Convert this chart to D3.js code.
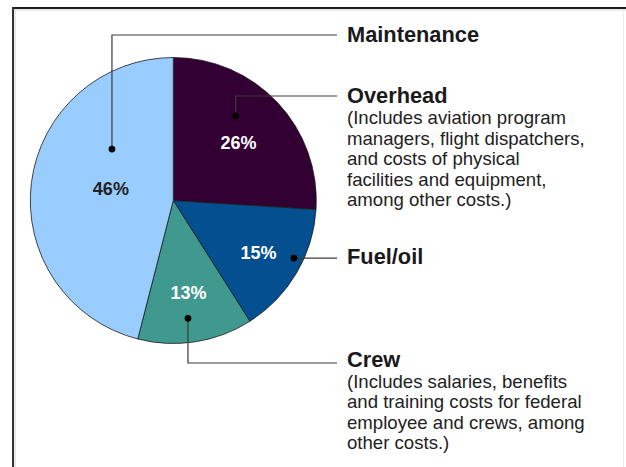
<!DOCTYPE html>
<html>
<head>
<meta charset="utf-8">
<script src="https://cdn.jsdelivr.net/npm/d3@7"></script>
<style>
  html, body { margin: 0; padding: 0; background: #fff; }
  svg { display: block; }
</style>
</head>
<body>
<svg id="chart" width="626" height="467"></svg>
<script>
// Aviation program cost shares, clockwise from 12 o'clock
const categories = ["Overhead", "Fuel/oil", "Crew", "Maintenance"];
const shares = [26, 15, 13, 46];
const sliceColors = ["#330033", "#044f8f", "#40998f", "#99ccff"];
const shareTextColors = ["#ffffff", "#ffffff", "#ffffff", "#222222"];
const notes = [
  ["(Includes aviation program", "managers, flight dispatchers,", "and costs of physical", "facilities and equipment,", "among other costs.)"],
  [],
  ["(Includes salaries, benefits", "and training costs for federal", "employee and crews, among", "other costs.)"],
  []
];

// Placement of the share labels and leader dots (polar, relative to the pie)
const shareLabelRadius = [0.61, 0.70, 0.655, 0.445];
const shareLabelTurn = [1.6, 1.0, -0.3, 4.0];       // degrees off the slice midline
const dotRadius = [0.735, 0.935, 0.83, 0.56];
const dotTurn = [-10.4, -5.1, 1.9, 32.8];            // degrees off the slice midline
// Legend block: header baseline and leader elbow height
const headerY = [103.3, 264.3, 367, 41.7];
const elbowY = [96, 258, 363, 35];

const svg = d3.select("#chart");
const W = 626, H = 467;
const cx = 173.3, cy = 200.5, R = 143;
const legendX = 347, lineEndX = 337;
const font = "'Liberation Sans', Arial, Helvetica, sans-serif";

// Frame
svg.append("line").attr("x1", 12).attr("x2", W).attr("y1", 8).attr("y2", 8)
  .attr("stroke", "#1e1e1e").attr("stroke-width", 2);
svg.append("line").attr("x1", 14).attr("x2", W).attr("y1", 10).attr("y2", 10)
  .attr("stroke", "#d4d4d4").attr("stroke-width", 1);
svg.append("line").attr("x1", 13).attr("x2", 13).attr("y1", 7).attr("y2", H)
  .attr("stroke", "#333").attr("stroke-width", 2);
svg.append("line").attr("x1", 15).attr("x2", 15).attr("y1", 10).attr("y2", H)
  .attr("stroke", "#d4d4d4").attr("stroke-width", 1);
svg.append("line").attr("x1", 623.5).attr("x2", 623.5).attr("y1", 10).attr("y2", H)
  .attr("stroke", "#ececec").attr("stroke-width", 1);

const data = categories.map((c, i) => ({ name: c, value: shares[i], i }));
const pie = d3.pie().sort(null).value(d => d.value).startAngle(0).endAngle(2 * Math.PI);
const arcs = pie(data);
const arc = d3.arc().innerRadius(0).outerRadius(R);

const g = svg.append("g").attr("transform", `translate(${cx},${cy})`);

g.selectAll("path.slice").data(arcs).join("path")
  .attr("class", "slice")
  .attr("d", arc)
  .attr("fill", d => sliceColors[d.data.i])
  .attr("stroke", "#1a1a1a")
  .attr("stroke-width", 0.8)
  .attr("stroke-linejoin", "round");

function polar(a, r) {
  return [Math.sin(a) * r, -Math.cos(a) * r];
}
const rad = deg => deg * Math.PI / 180;

// Share labels
g.selectAll("text.share").data(arcs).join("text")
  .attr("class", "share")
  .each(function (d) {
    const i = d.data.i;
    const a = (d.startAngle + d.endAngle) / 2 + rad(shareLabelTurn[i]);
    const [x, y] = polar(a, shareLabelRadius[i] * R);
    d3.select(this).attr("x", x).attr("y", y + 6.5);
  })
  .attr("text-anchor", "middle")
  .attr("font-family", font)
  .attr("font-weight", "bold")
  .attr("font-size", 18)
  .attr("fill", d => shareTextColors[d.data.i])
  .text(d => d.data.value + "%");

// Leader lines with dots
arcs.forEach(d => {
  const i = d.data.i;
  const a = (d.startAngle + d.endAngle) / 2 + rad(dotTurn[i]);
  const [dx, dy] = polar(a, dotRadius[i] * R);
  const px = cx + dx, py = cy + dy;
  const ey = elbowY[i];
  const path = Math.abs(ey - py) < 1
    ? `M${px},${py}H${lineEndX}`
    : `M${px},${py}V${ey}H${lineEndX}`;
  svg.append("path").attr("d", path)
    .attr("fill", "none").attr("stroke", "#3a3a3a").attr("stroke-width", 1.2);
  svg.append("circle").attr("cx", px).attr("cy", py).attr("r", 3.4).attr("fill", "#000");
});

// Legend text
categories.forEach((c, i) => {
  svg.append("text")
    .attr("x", legendX).attr("y", headerY[i])
    .attr("font-family", font).attr("font-weight", "bold").attr("font-size", 21.8)
    .attr("fill", "#1a1a1a")
    .text(c);
  notes[i].forEach((line, k) => {
    svg.append("text")
      .attr("x", legendX).attr("y", headerY[i] + 20.6 * (k + 1))
      .attr("font-family", font).attr("font-size", 18.6)
      .attr("fill", "#222")
      .text(line);
  });
});
</script>
</body>
</html>
